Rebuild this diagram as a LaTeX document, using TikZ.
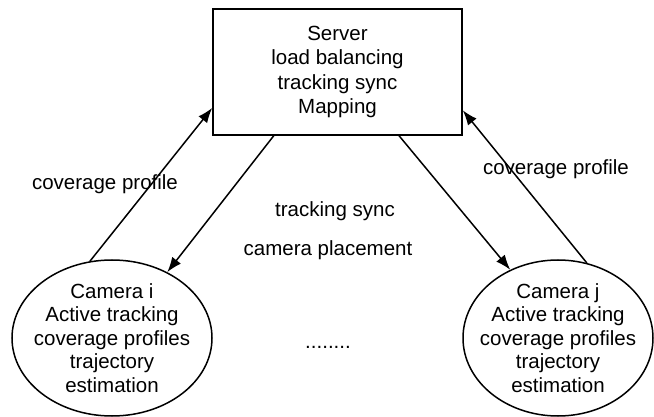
\documentclass[tikz,border=0pt]{standalone}
\usepackage{fontspec}
\setmainfont{Liberation Sans}
\usetikzlibrary{arrows.meta,shapes.geometric}
\begin{document}
\begin{tikzpicture}[x=0.5pt,y=-0.5pt,
  every node/.style={font=\fontsize{10.25}{11.75}\selectfont},
  serverbox/.style={draw,line width=0.75pt,rectangle,minimum width=124.5pt,
    minimum height=63pt,align=center,inner sep=0pt,
    font=\fontsize{10.25}{12.2}\selectfont},
  camera/.style={draw,line width=0.75pt,ellipse,inner sep=0pt,
    minimum height=78pt},
  camtext/.style={align=center,inner sep=0pt},
  link/.style={line width=0.75pt,-{Latex[length=7.5pt,width=5.5pt]}},
  lbl/.style={anchor=base,inner sep=0pt}]
\useasboundingbox (0,0) rectangle (654,417);

% server and the two cameras (outline first, text on top)
\node[serverbox] (server) at (337.5,72)
  {Server\\load balancing\\tracking sync\\Mapping};
\node[camera,minimum width=100pt] (ci) at (112,338) {};
\node[camera,minimum width=95pt] (cj) at (558,338) {};
\node[camtext] (citext) at (ci.center)
  {Camera i\\Active tracking\\coverage profiles\\trajectory\\estimation};
\node[camtext] (cjtext) at (cj.center)
  {Camera j\\Active tracking\\coverage profiles\\trajectory\\estimation};

% message flows
\draw[link] (ci.106.3) -- (server.196.1);
\draw[link] (server.225.2) -- (ci.50.9);
\draw[link] (server.314.8) -- (cj.125.9);
\draw[link] (cj.69.1) -- (server.343.9);

\node[lbl] (covi) at (105,190) {coverage profile};
\node[lbl] (covj) at (556,175) {coverage profile};
\node[lbl] (sync) at (335,217) {tracking sync};
\node[lbl] (place) at (328,256) {camera placement};
\node[lbl] (dots) at (328,348) {........};
\end{tikzpicture}
\end{document}
